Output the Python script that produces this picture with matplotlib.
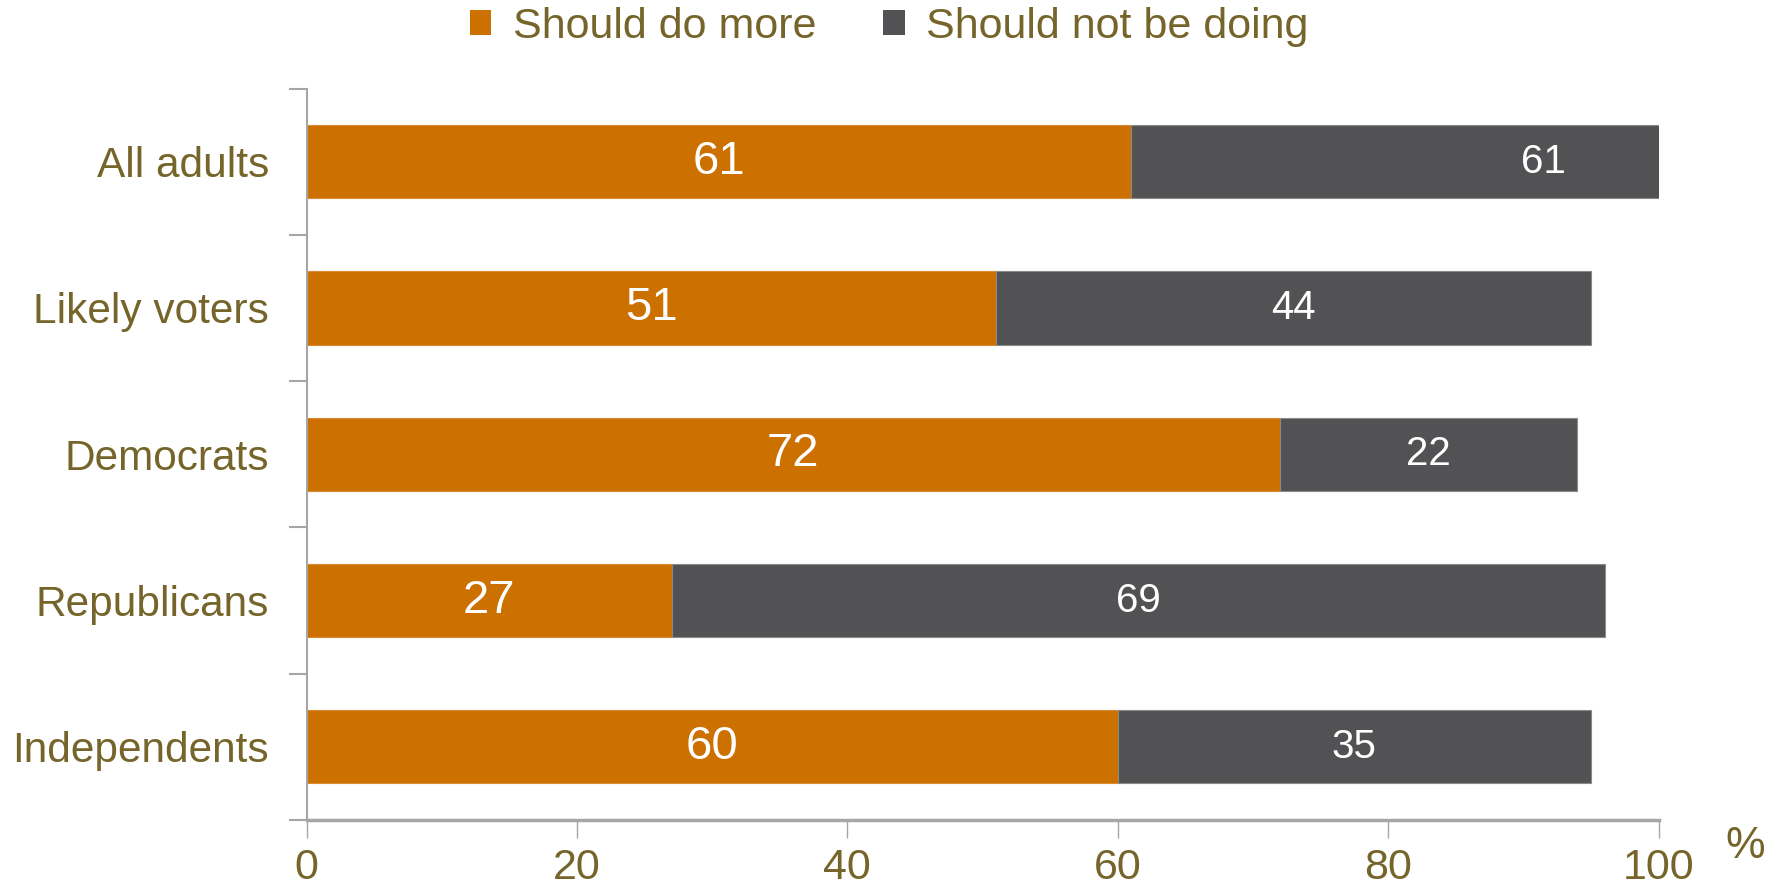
"""Stacked horizontal bars: should do more vs should not be doing."""

import matplotlib

matplotlib.use("Agg")
import matplotlib.pyplot as plt
import numpy as np
from matplotlib.patches import Patch

categories = ["All adults", "Likely voters", "Democrats", "Republicans", "Independents"]
do_more = [61, 51, 72, 27, 60]
not_doing = [61, 44, 22, 69, 35]
xticks = [0, 20, 40, 60, 80, 100]

ORANGE = "#cc7000"
GRAY = "#525254"
TEXT = "#75652a"
AXIS = "#a6a6a6"

plt.rcParams["font.family"] = ["Liberation Sans", "DejaVu Sans"]

fig = plt.figure(figsize=(17.8, 8.89), dpi=100)
ax = fig.add_axes([0.1722, 0.0776, 0.7596, 0.8228])

y = np.arange(len(categories))
ax.barh(y, do_more, height=0.5, color=ORANGE, edgecolor="#d98a33", linewidth=0.8)
ax.barh(y, not_doing, left=do_more, height=0.5, color=GRAY,
        edgecolor="#8a8a8a", linewidth=0.8)

for i in range(len(categories)):
    ax.text(do_more[i] / 2, y[i], str(do_more[i]), ha="center", va="center",
            color="white", fontsize=34)
    ax.text(do_more[i] + not_doing[i] / 2, y[i], str(not_doing[i]),
            ha="center", va="center", color="white", fontsize=29)

ax.set_xlim(0, 100)
ax.set_ylim(len(categories) - 0.5, -0.5)

ax.set_xticks(xticks)
ax.set_xticklabels([str(t) for t in xticks])
ax.tick_params(axis="x", length=13, width=1, color=AXIS, labelsize=31,
               labelcolor=TEXT, pad=7, direction="out")

ax.set_yticks(y)
ax.set_yticklabels(categories)
ax.set_yticks(np.arange(-0.5, len(categories)), minor=True)
ax.tick_params(axis="y", which="major", length=0, labelsize=30.5,
               labelcolor=TEXT, pad=27)
ax.tick_params(axis="y", which="minor", length=13, width=1.5, color=AXIS)

for side in ["top", "right"]:
    ax.spines[side].set_visible(False)
ax.spines["left"].set_color(AXIS)
ax.spines["left"].set_linewidth(1.5)
ax.spines["bottom"].set_color(AXIS)
ax.spines["bottom"].set_linewidth(2.5)

fig.text(1745 / 1780, 1 - 846 / 889, "%", ha="center", va="center",
         fontsize=32, color=TEXT)

handles = [Patch(facecolor=ORANGE, edgecolor="none"),
           Patch(facecolor=GRAY, edgecolor="none")]
fig.legend(handles, ["Should do more", "Should not be doing"],
           loc="center", bbox_to_anchor=(0.4995, 1 - 27 / 889), ncol=2,
           frameon=False, fontsize=31, labelcolor=TEXT,
           handlelength=0.5, handleheight=0.5, handletextpad=0.5,
           columnspacing=1.55)

fig.savefig("out.png", dpi=100)
